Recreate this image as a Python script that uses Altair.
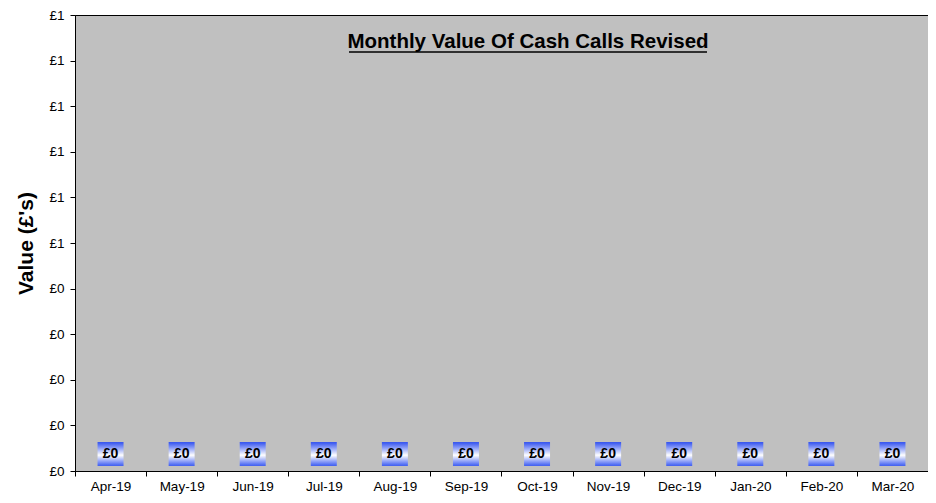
import altair as alt
import pandas as pd

months = ["Apr-19", "May-19", "Jun-19", "Jul-19", "Aug-19", "Sep-19",
          "Oct-19", "Nov-19", "Dec-19", "Jan-20", "Feb-20", "Mar-20"]
values = [0, 0, 0, 0, 0, 0, 0, 0, 0, 0, 0, 0]
y_ticks = [0.0, 0.1, 0.2, 0.3, 0.4, 0.5, 0.6, 0.7, 0.8, 0.9, 1.0]
title_text = ["Monthly Value Of Cash Calls Revised"]

df = pd.DataFrame({"month": months, "value": values})
tdf = pd.DataFrame({"t": title_text})

FONT = "Liberation Sans"

x_enc = alt.X("month:N", sort=months, title=None,
              scale=alt.Scale(paddingInner=0, paddingOuter=0),
              axis=alt.Axis(labelAngle=0, labelFontSize=13.5, labelFont=FONT,
                            labelColor="black", tickBand="extent", tickColor="black",
                            tickSize=5, domainColor="black", labelPadding=3,
                            grid=False))
x_plain = alt.X("month:N", sort=months)
y_enc = alt.Y("value:Q", title="Value (£'s)",
              scale=alt.Scale(domain=[0, 1], nice=False, zero=True),
              axis=alt.Axis(values=y_ticks, labelExpr="'£' + round(datum.value)",
                            labelFontSize=13.5, labelFont=FONT, labelColor="black",
                            tickColor="black", tickSize=5, domainColor="black",
                            grid=False, labelPadding=6, titleFont=FONT,
                            titleFontSize=21, titleFontWeight="bold",
                            titleColor="black", titlePadding=12))

base = alt.Chart(df)

bars = base.mark_bar(color="#3355ee", width=26).encode(x=x_enc, y=y_enc)

gradient = alt.Gradient(
    gradient="linear", x1=0, y1=0, x2=0, y2=1,
    stops=[alt.GradientStop(color="#2f4ff0", offset=0),
           alt.GradientStop(color="#ffffff", offset=0.55),
           alt.GradientStop(color="#3a5af2", offset=1)])

boxes = base.mark_point(shape="M-1,-0.92L1,-0.92L1,0.92L-1,0.92Z", size=676,
                        filled=True, fill=gradient, opacity=1, strokeWidth=0,
                        yOffset=-17).encode(x=x_plain, y="value:Q")

labels = base.transform_calculate(lbl="'£' + format(datum.value, '.0f')").mark_text(
    font=FONT, fontSize=14, fontWeight="bold", color="black",
    yOffset=-17, baseline="middle").encode(x=x_plain, y="value:Q", text="lbl:N")

title = alt.Chart(tdf).mark_text(font=FONT, fontSize=20.5, fontWeight="bold",
                                 color="black", baseline="alphabetic",
                                 align="center").encode(
    x=alt.value(453), y=alt.value(33), text="t:N")

underline = alt.Chart(tdf).mark_rule(color="black", strokeWidth=1.5).encode(
    x=alt.value(274), x2=alt.value(632), y=alt.value(37))

chart = alt.layer(bars, boxes, labels, title, underline).properties(
    width=853, height=456,
    autosize=alt.AutoSizeParams(type="none"),
    padding={"left": 67, "top": 7, "right": 0, "bottom": 24},
    background="white",
).configure_view(fill="#c0c0c0", stroke="black", strokeWidth=1)

chart.save("out.html", embed_options={"renderer": "svg", "actions": False})
